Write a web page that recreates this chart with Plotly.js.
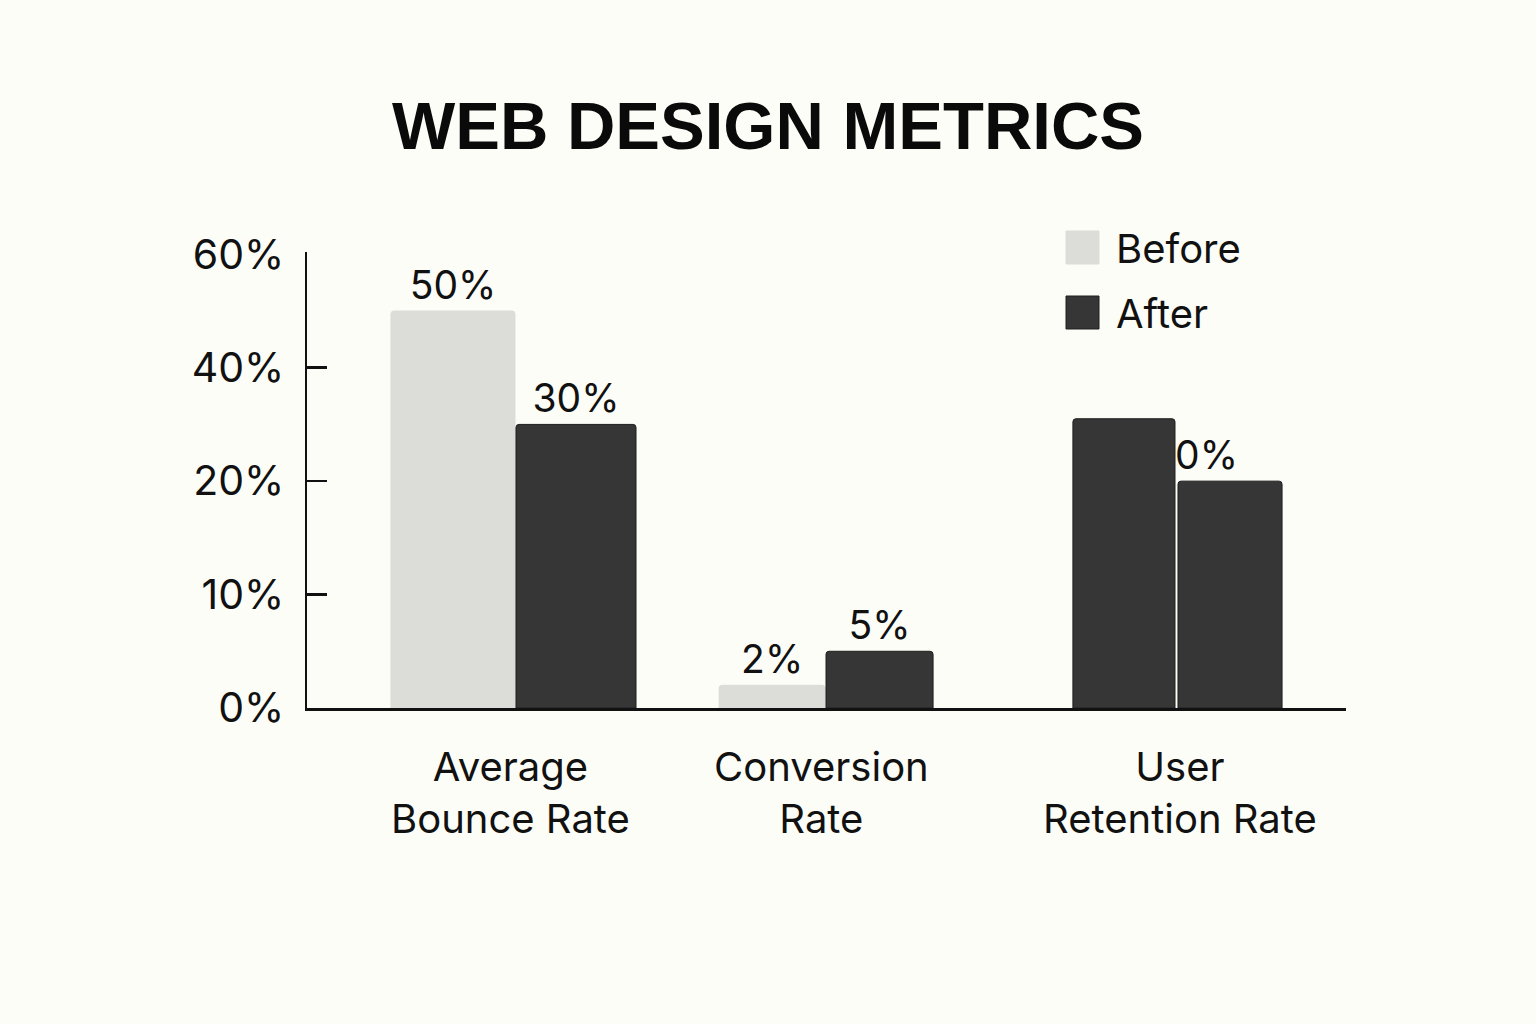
<!DOCTYPE html>
<html>
<head>
<meta charset="utf-8">
<script src="https://cdn.plot.ly/plotly-3.0.1.min.js"></script>
<style>
  html, body { margin: 0; padding: 0; background: #FDFDF8; }
  #chart { width: 1536px; height: 1024px; }
</style>
</head>
<body>
<div id="chart"></div>
<script>
// Metric groups and their two-line axis labels
const categories = ['Average Bounce Rate', 'Conversion Rate', 'User Retention Rate'];
const categoryLabels = ['Average<br>Bounce Rate', 'Conversion<br>Rate', 'User<br>Retention Rate'];

// Series
const seriesNames = ['Before', 'After'];
const beforeValues = [50, 2, 31];
const afterValues = [30, 5, 20];
const beforeShowLabel = [true, true, false];
const afterShowLabel = [true, true, false];   // retention label is drawn under the bars

// Value axis: evenly spaced ticks with uneven steps
const yTickValues = [0, 10, 20, 40, 60];
const yTickLabels = ['0%', '10%', '20%', '40%', '60%'];

// Map a percentage onto the evenly spaced tick scale (piecewise linear)
function toAxis(v) {
  for (let i = 0; i < yTickValues.length - 1; i++) {
    const a = yTickValues[i], b = yTickValues[i + 1];
    if (v <= b || i === yTickValues.length - 2) return i + (v - a) / (b - a);
  }
  return 0;
}

// Styling
const LIGHT = '#DCDCD8';
const DARK = '#363636';
const EDGE = '#1E1E1E';
const INK = '#111111';
const FONT = 'Inter, "Noto Sans", sans-serif';

const beforeColors = [LIGHT, LIGHT, DARK];
const afterColors = [DARK, DARK, DARK];

// Bar geometry per group (category units)
const beforeOffset = [-0.367, -0.380, -0.316];
const beforeWidth = [0.373, 0.319, 0.307];
const afterOffset = [0.009, -0.0586, 0.0];
const afterWidth = [0.361, 0.322, 0.313];
const labelShift = [-2, -24, 2];

// Plot area in pixels
const M = { l: 307, r: 190, t: 252, b: 316 };
const W = 1536, H = 1024;
const plotW = W - M.l - M.r, plotH = H - M.t - M.b;
const paperX = px => (px - M.l) / plotW;
const paperY = py => (H - M.b - py) / plotH;

const pct = v => v + '%';

const traces = [
  {
    type: 'bar',
    name: seriesNames[0],
    x: categories,
    y: beforeValues.map(toAxis),
    offset: beforeOffset,
    width: beforeWidth,
    text: beforeValues.map((v, i) => beforeShowLabel[i] ? pct(v) : ''),
    textposition: 'outside',
    constraintext: 'none',
    cliponaxis: false,
    textfont: { family: FONT, size: 39, color: INK },
    marker: {
      color: beforeColors,
      line: { color: beforeColors.map(c => c === DARK ? EDGE : LIGHT), width: 1 },
      cornerradius: 3
    },
    hoverinfo: 'skip',
    showlegend: false
  },
  {
    type: 'bar',
    name: seriesNames[1],
    x: categories,
    y: afterValues.map(toAxis),
    offset: afterOffset,
    width: afterWidth,
    text: afterValues.map((v, i) => afterShowLabel[i] ? pct(v) : ''),
    textposition: 'outside',
    constraintext: 'none',
    cliponaxis: false,
    textfont: { family: FONT, size: 39, color: INK },
    marker: {
      color: afterColors,
      line: { color: EDGE, width: 1 },
      cornerradius: 3
    },
    hoverinfo: 'skip',
    showlegend: false
  }
];

// Category labels
const annotations = categories.map((c, i) => ({
  x: c, xref: 'x',
  y: 0, yref: 'paper',
  yshift: -84,
  xshift: labelShift[i],
  text: categoryLabels[i],
  showarrow: false,
  xanchor: 'center', yanchor: 'middle',
  align: 'center',
  font: { family: FONT, size: 40, color: INK }
}));

// Legend entries
const legendRows = [
  { top: 231, color: LIGHT, edge: LIGHT },
  { top: 296, color: DARK, edge: EDGE }
];
const shapes = [];
legendRows.forEach((row, i) => {
  shapes.push({
    type: 'rect', xref: 'paper', yref: 'paper',
    x0: paperX(1066), x1: paperX(1099),
    y0: paperY(row.top + 33), y1: paperY(row.top),
    fillcolor: row.color,
    line: { color: row.edge, width: 1 },
    layer: 'above'
  });
  annotations.push({
    xref: 'paper', yref: 'paper',
    x: paperX(1114), y: paperY(row.top + 17),
    xanchor: 'left', yanchor: 'middle',
    text: seriesNames[i],
    showarrow: false,
    font: { family: FONT, size: 40, color: INK }
  });
});

// Retention "After" label sits beneath the bars so the neighbouring bar overlaps it
shapes.push({
  type: 'rect', xref: 'x', yref: 'y',
  x0: 1.9, x1: 2.2,
  y0: toAxis(afterValues[2]), y1: toAxis(afterValues[2]) + 0.6,
  fillcolor: 'rgba(0,0,0,0)',
  line: { width: 0 },
  layer: 'below',
  label: {
    text: pct(afterValues[2]),
    textposition: 'bottom center',
    padding: 4,
    font: { family: FONT, size: 39, color: INK }
  }
});

const layout = {
  width: W, height: H,
  margin: M,
  paper_bgcolor: '#FDFDF8',
  plot_bgcolor: '#FDFDF8',
  barmode: 'overlay',
  showlegend: false,
  title: {
    text: 'WEB DESIGN METRICS',
    x: 0.5, xref: 'container', xanchor: 'center',
    y: 1 - 126 / H, yref: 'container', yanchor: 'middle',
    font: { family: '"Liberation Sans", Arial, sans-serif', size: 67, color: '#0A0A0A', weight: 700 }
  },
  xaxis: {
    type: 'category',
    range: [-0.6195, 2.5053],
    showticklabels: false,
    ticks: '',
    showgrid: false,
    zeroline: false,
    showline: true,
    linecolor: INK,
    linewidth: 2.5,
    fixedrange: true
  },
  yaxis: {
    range: [0, 4.02],
    tickmode: 'array',
    tickvals: yTickValues.map(toAxis),
    ticktext: yTickLabels,
    ticks: '',
    ticklabelstandoff: 12,
    tickfont: { family: FONT, size: 41, color: INK },
    minor: {
      tickmode: 'array',
      tickvals: [1, 2, 3],
      ticks: 'inside',
      ticklen: 20,
      tickwidth: 2.5,
      tickcolor: INK,
      showgrid: false
    },
    showgrid: false,
    zeroline: false,
    showline: true,
    linecolor: INK,
    linewidth: 2.5,
    fixedrange: true
  },
  annotations: annotations,
  shapes: shapes
};

Plotly.newPlot('chart', traces, layout, { displayModeBar: false, staticPlot: true });
</script>
</body>
</html>
